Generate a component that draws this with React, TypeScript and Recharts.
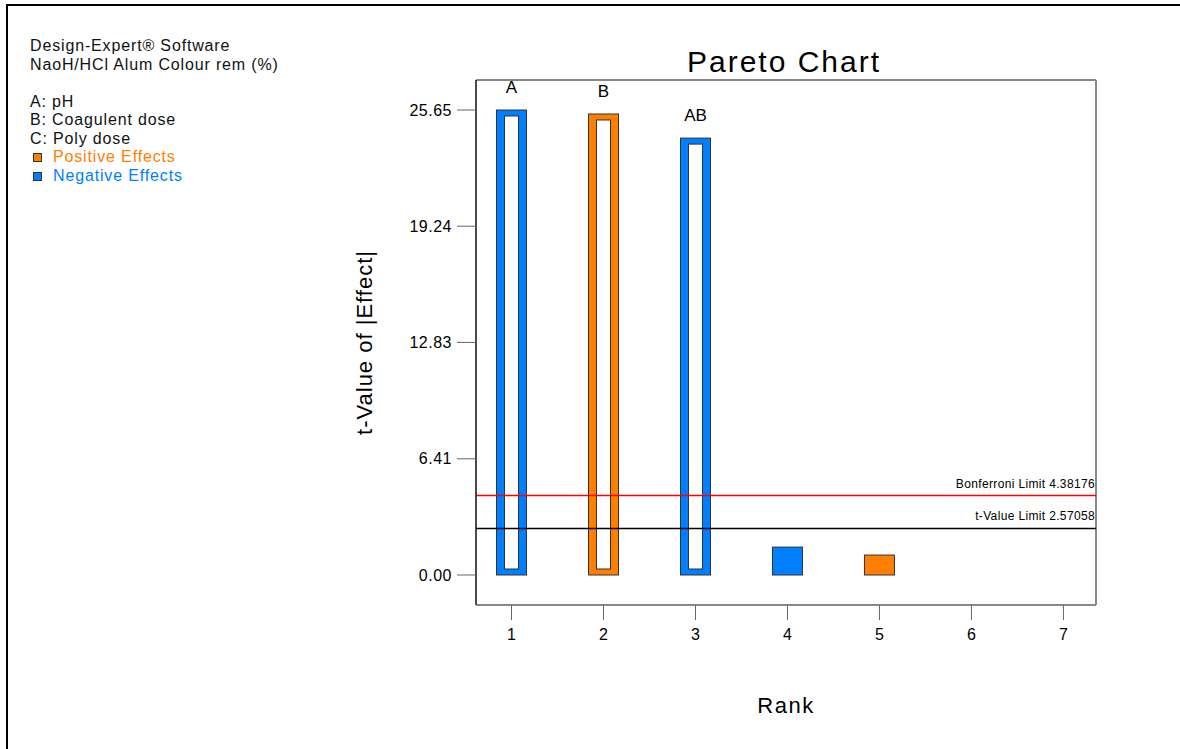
import React from 'react'
import {
  BarChart,
  Bar,
  XAxis,
  YAxis,
  ReferenceLine,
  ReferenceArea,
  LabelList,
  Label,
} from 'recharts'

// pareto ranks and t-values
const ranks = [1, 2, 3, 4, 5]
const terms = ['A', 'B', 'AB', '', '']
const tValues = [25.65, 25.43, 24.1, 1.54, 1.1]
const effectSigns = ['negative', 'positive', 'negative', 'negative', 'positive']

const rankTicks = [1, 2, 3, 4, 5, 6, 7]
const tTicks = [0, 6.41, 12.83, 19.24, 25.65]

const BONFERRONI = 4.38176
const T_LIMIT = 2.57058

const factorLines = ['A: pH', 'B: Coagulent dose', 'C: Poly dose']

const X_DOMAIN: [number, number] = [0.614, 7.354]
const Y_DOMAIN: [number, number] = [-1.655, 27.305]

const BLUE = '#0080FF'
const ORANGE = '#FF8000'
const FONT = '"Liberation Sans", Arial, sans-serif'

const rows = ranks.map((rank, i) => ({
  rank,
  term: terms[i],
  value: tValues[i],
  sign: effectSigns[i],
}))

function EffectBar(props: any) {
  const { x, y, width, height, payload } = props
  const color = payload.sign === 'positive' ? ORANGE : BLUE
  const hollow = payload.value > BONFERRONI
  return (
    <g>
      <rect x={x} y={y} width={width} height={height} fill={color} stroke="#333" strokeWidth={1} />
      {hollow && (
        <rect
          x={x + 8}
          y={y + 6}
          width={width - 16}
          height={height - 12}
          fill="#fff"
          stroke="#333"
          strokeWidth={1}
        />
      )}
    </g>
  )
}

function limitLabel(text: string) {
  return (props: any) => {
    const vb = props.viewBox
    return (
      <text
        x={vb.x + vb.width - 1}
        y={vb.y - 8}
        textAnchor="end"
        fontSize={12}
        letterSpacing={0.35}
        fill="#000"
        fontFamily={FONT}
      >
        {text}
      </text>
    )
  }
}

const swatch = (color: string) => (
  <span
    style={{
      display: 'inline-block',
      width: 7,
      height: 7,
      background: color,
      border: '1px solid #333',
      marginLeft: 3,
      marginRight: 11,
    }}
  />
)

export default function App() {
  return (
    <div
      style={{
        position: 'absolute',
        left: 0,
        top: 0,
        width: 1180,
        height: 749,
        overflow: 'hidden',
        background: '#fff',
        fontFamily: FONT,
      }}
    >
      <div
        style={{
          position: 'absolute',
          left: 6,
          top: 4,
          width: 1300,
          height: 900,
          borderTop: '2px solid #000',
          borderLeft: '2px solid #000',
        }}
      />

      <div
        style={{
          position: 'absolute',
          left: 30,
          top: 37,
          fontSize: 16,
          letterSpacing: 0.85,
          lineHeight: '18.5px',
          color: '#111',
        }}
      >
        <div>Design-Expert® Software</div>
        <div>NaoH/HCl Alum Colour rem (%)</div>
        <div>&nbsp;</div>
        {factorLines.map((t) => (
          <div key={t}>{t}</div>
        ))}
        <div style={{ color: ORANGE }}>
          {swatch(ORANGE)}
          Positive Effects
        </div>
        <div style={{ color: BLUE }}>
          {swatch(BLUE)}
          Negative Effects
        </div>
      </div>

      <div
        style={{
          position: 'absolute',
          left: 584,
          top: 47,
          width: 400,
          textAlign: 'center',
          fontSize: 30,
          letterSpacing: 2,
          lineHeight: '30px',
          color: '#000',
        }}
      >
        Pareto Chart
      </div>

      <div style={{ position: 'absolute', left: 0, top: 0 }}>
        <BarChart
          width={1180}
          height={749}
          data={rows}
          margin={{ top: 80, right: 84, bottom: 84, left: 0 }}
          style={{ fontFamily: FONT }}
        >
          <ReferenceArea
            x1={X_DOMAIN[0]}
            x2={X_DOMAIN[1]}
            y1={Y_DOMAIN[0]}
            y2={Y_DOMAIN[1]}
            fill="none"
            fillOpacity={0}
            stroke="#111"
            strokeWidth={1}
          />
          <XAxis
            dataKey="rank"
            type="number"
            domain={X_DOMAIN}
            allowDataOverflow
            ticks={rankTicks}
            height={60}
            tickSize={15}
            tickMargin={9}
            axisLine={{ stroke: '#888', strokeWidth: 2 }}
            tickLine={{ stroke: '#666' }}
            tick={{ fontSize: 16, fill: '#000' }}
            label={
              <Label
                content={(p: any) => (
                  <text
                    x={p.viewBox.x + p.viewBox.width / 2}
                    y={p.viewBox.y + 108}
                    textAnchor="middle"
                    fontSize={22}
                    letterSpacing={1.5}
                    fill="#000"
                    fontFamily={FONT}
                  >
                    Rank
                  </text>
                )}
              />
            }
          />
          <YAxis
            type="number"
            domain={Y_DOMAIN}
            allowDataOverflow
            ticks={tTicks}
            width={476}
            tickSize={19}
            tickMargin={5}
            tickFormatter={(v: number) => v.toFixed(2)}
            axisLine={{ stroke: '#111' }}
            tickLine={{ stroke: '#666' }}
            tick={{ fontSize: 16, fill: '#000', letterSpacing: 0.5 }}
            label={
              <Label
                content={(p: any) => {
                  const x = p.viewBox.x + p.viewBox.width - 104
                  const y = p.viewBox.y + p.viewBox.height / 2
                  return (
                    <text
                      x={x}
                      y={y}
                      transform={`rotate(-90, ${x}, ${y})`}
                      textAnchor="middle"
                      fontSize={22}
                      letterSpacing={1}
                      fill="#000"
                      fontFamily={FONT}
                    >
                      t-Value of |Effect|
                    </text>
                  )
                }}
              />
            }
          />
          <ReferenceLine x={X_DOMAIN[1]} stroke="#888" strokeWidth={2} />
          <ReferenceLine
            y={BONFERRONI}
            stroke="#FF0000"
            strokeWidth={1.5}
            label={<Label content={limitLabel(`Bonferroni Limit ${BONFERRONI}`)} />}
          />
          <ReferenceLine
            y={T_LIMIT}
            stroke="#000"
            strokeWidth={1.5}
            label={<Label content={limitLabel(`t-Value Limit ${T_LIMIT}`)} />}
          />
          <Bar dataKey="value" barSize={30} shape={EffectBar} isAnimationActive={false}>
            <LabelList dataKey="term" position="top" offset={17} fontSize={17} fill="#000" />
          </Bar>
        </BarChart>
      </div>
    </div>
  )
}
